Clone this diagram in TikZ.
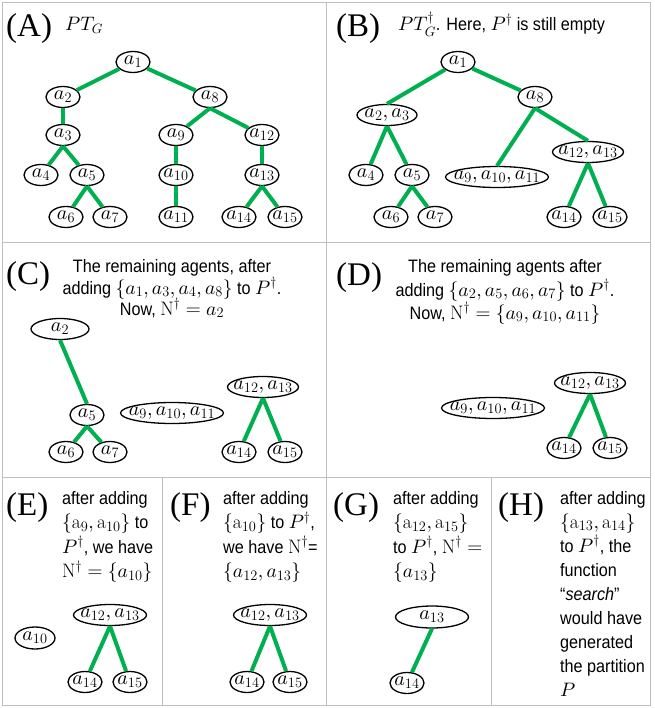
\documentclass[tikz,border=0pt]{standalone}
\usepackage{fontspec}
\usetikzlibrary{shapes.geometric}
\DeclareFontShape{OML}{cmm}{m}{it}{<->cmmi10}{}
\DeclareFontShape{OMS}{cmsy}{m}{n}{<->cmsy10}{}
\DeclareFontShape{OMX}{cmex}{m}{n}{<->cmex10}{}
\DeclareMathSizes{18}{19.5}{13.5}{10}
\newfontfamily\txtfont[FakeStretch=0.9]{Liberation Sans}
\newfontfamily\lblfont{Liberation Serif}
\definecolor{edgegreen}{RGB}{0,176,80}
\definecolor{gridgray}{RGB}{191,191,191}
\newcommand{\ag}[1]{\makebox[0pt]{$#1$}}
\tikzset{
 agent/.style={ellipse, draw=black, line width=1.3pt, fill=white, inner sep=0pt,
   minimum height=21pt, minimum width=#1, text height=8.5pt, text depth=3pt,
   font=\fontsize{20}{22}\selectfont},
 agent/.default=34pt,
 tedge/.style={draw=edgegreen, line width=4pt},
 gridline/.style={draw=gridgray, line width=1pt},
 plabel/.style={anchor=base west, inner sep=0pt, font=\lblfont\fontsize{33}{36}\selectfont},
 ptext/.style={anchor=base west, inner sep=0pt, text height=13pt, text depth=4pt,
   font=\txtfont\fontsize{18}{22}\selectfont},
 ctext/.style={anchor=base, inner sep=0pt, text height=13pt, text depth=4pt,
   font=\txtfont\fontsize{18}{22}\selectfont},
}
\begin{document}
\begin{tikzpicture}[x=1pt,y=-1pt]
\useasboundingbox (0,0) rectangle (654,708);
\fill[white] (0,0) rectangle (654,708);
% grid
\draw[gridline] (2,3) rectangle (650,705);
\draw[gridline] (326.5,3) -- (326.5,705);
\draw[gridline] (2,243) -- (650,243);
\draw[gridline] (2,477) -- (650,477);
\draw[gridline] (162,477) -- (162,705);
\draw[gridline] (491,477) -- (491,705);

% ---------- Panel A
\node[plabel] (la) at (6,37) {(A)};
\node[ptext] (ta) at (65,31) {$PT_G$};
\node[agent] (A1) at (133,62) {\ag{a_1}};
\node[agent] (A2) at (63,97) {\ag{a_2}};
\node[agent] (A8) at (210,97) {\ag{a_8}};
\node[agent] (A3) at (63,135) {\ag{a_3}};
\node[agent] (A9) at (176,135) {\ag{a_9}};
\node[agent] (A12) at (262,135) {\ag{a_{12}}};
\node[agent] (A4) at (41,175) {\ag{a_4}};
\node[agent] (A5) at (87,175) {\ag{a_5}};
\node[agent] (A10) at (176,175) {\ag{a_{10}}};
\node[agent] (A13) at (262,175) {\ag{a_{13}}};
\node[agent] (A6) at (66,217) {\ag{a_6}};
\node[agent] (A7) at (110,217) {\ag{a_7}};
\node[agent] (A11) at (176,217) {\ag{a_{11}}};
\node[agent] (A14) at (239,217) {\ag{a_{14}}};
\node[agent] (A15) at (285,217) {\ag{a_{15}}};
\draw[tedge] (A1) -- (A2);
\draw[tedge] (A1) -- (A8);
\draw[tedge] (A2) -- (A3);
\draw[tedge] (A3.south) -- (A4);
\draw[tedge] (A3.south) -- (A5);
\draw[tedge] (A5.south) -- (A6);
\draw[tedge] (A5.south) -- (A7);
\draw[tedge] (A8.south) -- (A9);
\draw[tedge] (A8.south) -- (A12);
\draw[tedge] (A9) -- (A10);
\draw[tedge] (A10) -- (A11);
\draw[tedge] (A12) -- (A13);
\draw[tedge] (A13.south) -- (A14);
\draw[tedge] (A13.south) -- (A15);

% ---------- Panel B
\node[plabel] (lb) at (336,37) {(B)};
\node[ptext] (tb) at (398,31) {$PT_G^\dagger$. Here, $P^\dagger$ is still empty};
\node[agent] (B1) at (458,62) {\ag{a_1}};
\node[agent] (B8) at (535,97) {\ag{a_8}};
\node[agent=60pt] (B23) at (387,115) {\ag{a_2, a_3}};
\node[agent=71pt] (B1213) at (588,152) {\ag{a_{12}, a_{13}}};
\node[agent=103pt] (B91011) at (497,177) {\ag{a_9, a_{10}, a_{11}}};
\node[agent] (B4) at (366,175) {\ag{a_4}};
\node[agent] (B5) at (412,175) {\ag{a_5}};
\node[agent] (B6) at (391,217) {\ag{a_6}};
\node[agent] (B7) at (435,217) {\ag{a_7}};
\node[agent] (B14) at (564,217) {\ag{a_{14}}};
\node[agent] (B15) at (610,217) {\ag{a_{15}}};
\draw[tedge] (B1) -- (B23.north);
\draw[tedge] (B1) -- (B8);
\draw[tedge] (B8.south) -- (B91011.north);
\draw[tedge] (B8.south) -- (B1213.north);
\draw[tedge] (B23.south) -- (B4);
\draw[tedge] (B23.south) -- (B5);
\draw[tedge] (B5.south) -- (B6);
\draw[tedge] (B5.south) -- (B7);
\draw[tedge] (B1213.south) -- (B14);
\draw[tedge] (B1213.south) -- (B15);

% ---------- Panel C
\node[plabel] (lc) at (6,284) {(C)};
\node[ctext] (tc1) at (172,272) {The remaining agents, after};
\node[ctext] (tc2) at (172,294) {adding $\{a_1, a_3, a_4, a_8\}$ to $P^\dagger$.};
\node[ctext] (tc3) at (172,315) {Now, $\mathrm{N}^\dagger = a_2$};
\node[agent=58pt] (C2) at (60,329) {\ag{a_2}};
\node[agent] (C5) at (87,415) {\ag{a_5}};
\node[agent] (C6) at (66,452) {\ag{a_6}};
\node[agent] (C7) at (110,452) {\ag{a_7}};
\node[agent=103pt] (C91011) at (172,413) {\ag{a_9, a_{10}, a_{11}}};
\node[agent=71pt] (C1213) at (263,387) {\ag{a_{12}, a_{13}}};
\node[agent] (C14) at (239,452) {\ag{a_{14}}};
\node[agent] (C15) at (285,452) {\ag{a_{15}}};
\draw[tedge] (C2.south) -- (C5.north);
\draw[tedge] (C5.south) -- (C6);
\draw[tedge] (C5.south) -- (C7);
\draw[tedge] (C1213.south) -- (C14);
\draw[tedge] (C1213.south) -- (C15);

% ---------- Panel D
\node[plabel] (ld) at (336,285) {(D)};
\node[ctext] (td1) at (505,272) {The remaining agents after};
\node[ctext] (td2) at (505,296) {adding $\{a_2, a_5, a_6, a_7\}$ to $P^\dagger$.};
\node[ctext] (td3) at (505,319) {Now, $\mathrm{N}^\dagger = \{a_9, a_{10}, a_{11}\}$};
\node[agent=103pt] (D91011) at (493,408) {\ag{a_9, a_{10}, a_{11}}};
\node[agent=71pt] (D1213) at (590,383) {\ag{a_{12}, a_{13}}};
\node[agent] (D14) at (564,448) {\ag{a_{14}}};
\node[agent] (D15) at (610,448) {\ag{a_{15}}};
\draw[tedge] (D1213.south) -- (D14);
\draw[tedge] (D1213.south) -- (D15);

% ---------- Panel E
\node[plabel] (le) at (6,515) {(E)};
\node[ptext] (te1) at (62,504) {after adding};
\node[ptext] (te2) at (62,528.5) {$\{\mathrm{a}_9, \mathrm{a}_{10}\}$ to};
\node[ptext] (te3) at (62,553) {$P^\dagger$, we have};
\node[ptext] (te4) at (62,577.5) {$\mathrm{N}^\dagger = \{a_{10}\}$};
\node[agent=40pt, minimum height=22pt] (E10) at (35,638) {\ag{a_{10}}};
\node[agent=73pt] (E1213) at (110,615) {\ag{a_{12}, a_{13}}};
\node[agent] (E14) at (85,682) {\ag{a_{14}}};
\node[agent] (E15) at (130,682) {\ag{a_{15}}};
\draw[tedge] (E1213.south) -- (E14);
\draw[tedge] (E1213.south) -- (E15);

% ---------- Panel F
\node[plabel] (lf) at (170,515) {(F)};
\node[ptext] (tf1) at (223,504) {after adding};
\node[ptext] (tf2) at (223,528.5) {$\{\mathrm{a}_{10}\}$ to $P^\dagger$,};
\node[ptext] (tf3) at (223,553) {we have $\mathrm{N}^\dagger$=};
\node[ptext] (tf4) at (223,577.5) {$\{a_{12}, a_{13}\}$};
\node[agent=73pt] (F1213) at (270,615) {\ag{a_{12}, a_{13}}};
\node[agent] (F14) at (247,682) {\ag{a_{14}}};
\node[agent] (F15) at (290,682) {\ag{a_{15}}};
\draw[tedge] (F1213.south) -- (F14);
\draw[tedge] (F1213.south) -- (F15);

% ---------- Panel G
\node[plabel] (lg) at (333,515) {(G)};
\node[ptext] (tg1) at (393,504) {after adding};
\node[ptext] (tg2) at (393,528.5) {$\{\mathrm{a}_{12}, \mathrm{a}_{15}\}$};
\node[ptext] (tg3) at (393,553) {to $P^\dagger$, $\mathrm{N}^\dagger =$};
\node[ptext] (tg4) at (393,577.5) {$\{a_{13}\}$};
\node[agent=73pt, minimum height=22pt] (G13) at (432,617) {\ag{a_{13}}};
\node[agent] (G14) at (407,683) {\ag{a_{14}}};
\draw[tedge] (G13.south) -- (G14);

% ---------- Panel H
\node[plabel] (lh) at (498,515) {(H)};
\node[ptext] (th1) at (560,504) {after adding};
\node[ptext] (th2) at (560,528) {$\{\mathrm{a}_{13}, \mathrm{a}_{14}\}$};
\node[ptext] (th3) at (560,552) {to $P^\dagger$, the};
\node[ptext] (th4) at (560,576) {function};
\node[ptext] (th5) at (560,600) {“\textit{search}”};
\node[ptext] (th6) at (560,624) {would have};
\node[ptext] (th7) at (560,648) {generated};
\node[ptext] (th8) at (560,672) {the partition};
\node[ptext] (th9) at (560,696) {$P$};
\end{tikzpicture}
\end{document}
